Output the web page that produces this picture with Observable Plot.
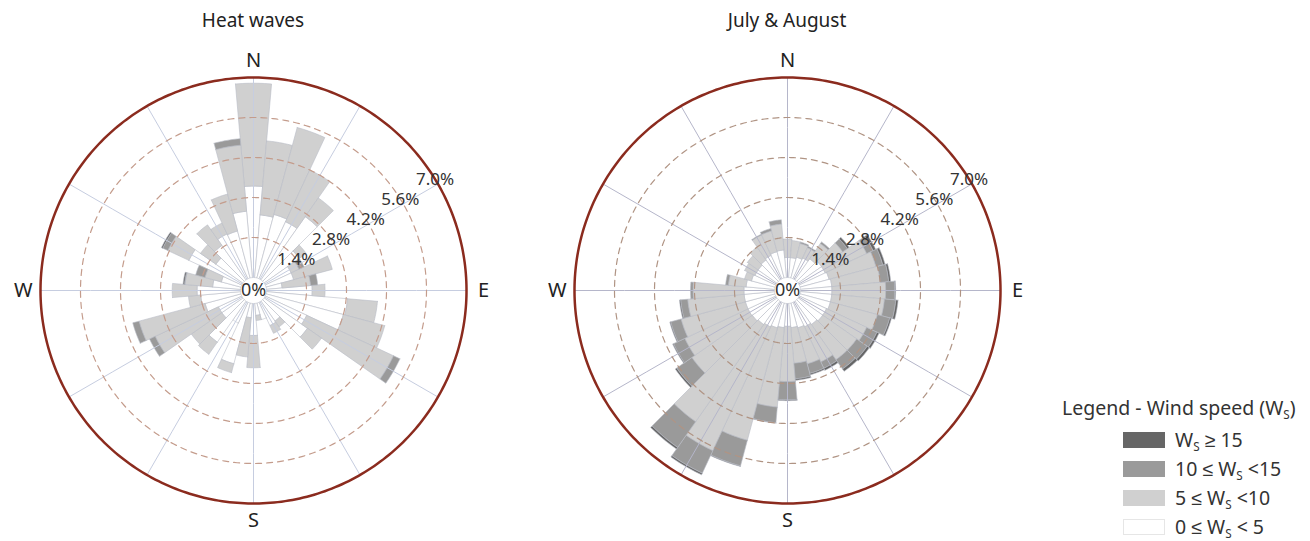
<!DOCTYPE html>
<html><head><meta charset="utf-8">
<script src="https://cdn.jsdelivr.net/npm/d3@7"></script>
<script src="https://cdn.jsdelivr.net/npm/@observablehq/plot@0.6"></script>
<style>
body{margin:0;background:#fff;font-family:"Noto Sans",sans-serif;}
#root{position:relative;width:1310px;height:541px;overflow:hidden;background:#fff;}
.title{position:absolute;top:7px;font-size:19px;color:#222;transform:translateX(-50%);white-space:nowrap;}
.chart{position:absolute;top:40px;}
#legend{position:absolute;left:0;top:0;width:1310px;height:541px;pointer-events:none;color:#333;}
.lg-title{position:absolute;left:1062px;top:394px;font-size:19.5px;white-space:nowrap;}
.sw{position:absolute;left:1123px;width:42px;height:16px;box-sizing:border-box;}
.lg-label{position:absolute;left:1175px;font-size:19.5px;white-space:nowrap;}
sub{font-size:0.6em;vertical-align:-0.35em;line-height:0;}
</style></head><body>
<div id="root">
  <div class="title" style="left:253px">Heat waves</div>
  <div class="title" style="left:787px">July &amp; August</div>
  <div class="chart" id="c1" style="left:3px"></div>
  <div class="chart" id="c2" style="left:537px"></div>
  <div id="legend"></div>
</div>
<script>
// ---- data ----
const directions = d3.range(0, 360, 10); // bearing of each 10° sector (degrees from N, clockwise)
const speedClasses = ["0 ≤ Ws < 5", "5 ≤ Ws <10", "10 ≤ Ws <15", "Ws ≥ 15"];
const classColors = ["#ffffff", "#d0d0d0", "#9a9a9a", "#666666"];
const legendLabels = ["0 ≤ W<sub>S</sub> < 5", "5 ≤ W<sub>S</sub> <10", "10 ≤ W<sub>S</sub> <15", "W<sub>S</sub> ≥ 15"];

// Heat waves: frequency (%) per wind-speed class and direction
const heatWaves_ws0_5  = [3.2,2.2,2.3,2.2,2.7,1.5,1.0,1.0,0.55,1.6,2.85,2.8,1.6,1.85,0.85,0.9,0.6,0.42,1.12,0.5,2.2,0.8,1.75,0.9,0.9,1.3,1.4,1.52,0.98,0.71,2.04,1.15,1.47,1.73,1.7,2.33];
const heatWaves_ws5_10 = [3.6,2.6,3.15,2.0,0.8,0.3,0.3,1.4,1.0,0.45,1.05,1.5,3.35,0.6,0.25,0.3,0,0.18,1.13,1.38,0.32,0,0.52,1.3,2.44,2.39,0.43,0.87,0.97,0.59,0.81,0.66,0.88,0.42,1.34,2.32];
const heatWaves_ws10_15= [0,0,0,0,0,0,0.2,0,0.25,0,0,0,0.25,0,0,0,0,0,0,0,0,0,0,0,0.22,0.23,0,0,0.02,0.34,0.2,0,0,0,0,0.23];
const heatWaves_ws15   = [0,0,0,0,0,0,0,0,0,0,0,0,0,0,0,0,0,0,0,0,0,0,0,0,0,0,0,0,0.05,0,0.05,0,0,0,0,0];

// July & August
const julyAug_ws0_5  = [0.7,0.7,0.75,0.8,0.9,1.0,1.0,1.05,1.1,1.1,1.1,1.1,1.05,1.05,1.0,0.95,0.9,0.85,0.8,0.85,0.9,0.95,1.0,1.05,1.07,1.07,1.07,1.07,1.0,0.85,0.8,0.8,0.85,0.9,0.95,0.97];
const julyAug_ws5_10 = [0.65,0.6,0.5,0.4,0.65,0.9,1.6,1.7,1.7,1.88,1.85,1.7,1.55,1.45,1.5,1.35,1.3,1.25,1.93,2.79,4.07,4.78,4.15,2.58,2.44,2.33,1.98,1.78,0.62,0.25,0.4,0.46,0.55,0.79,0.75,0.91];
const julyAug_ws10_15= [0,0,0.05,0.05,0.07,0.2,0.25,0.25,0.3,0.32,0.4,0.45,0.4,0.45,0.4,0.25,0.35,0.55,0.64,0.55,0.93,0.87,1.1,0.65,0.44,0.38,0.25,0.09,0.1,0,0,0,0,0.03,0.09,0.15];
const julyAug_ws15   = [0,0,0,0,0,0.08,0.1,0.08,0.07,0.03,0.08,0.06,0.08,0.09,0.1,0.08,0.05,0.05,0.03,0.01,0.02,0.06,0.07,0.06,0.03,0.03,0.04,0,0,0,0,0,0,0,0,0];

const ringTicks = [1.4, 2.8, 4.2, 5.6];
const outerTick = 7.0;
const tickLabels = ["1.4%", "2.8%", "4.2%", "5.6%", "7.0%"];
const cardinalLabels = ["N", "E", "S", "W"];
const cardinalBearings = [0, 90, 180, 270];
const spokeBearings = d3.range(0, 360, 30);
const labelBearing = 60;

// ---- polar helpers (angle -> longitude, percent -> latitude, projected by Plot) ----
const HOLE = 0.455;   // empty centre, in % units
const K = 10;         // degrees of arc per 1 %
const lon = b => 180 - b;
const lat = v => 90 - K * (HOLE + v);
const circle = v => d3.geoCircle().center([0, 90]).radius(K * (HOLE + v)).precision(1)();

function sectorRows(series) {
  const rows = [];
  directions.forEach((b, i) => {
    let base = 0;
    series.forEach((vals, ci) => {
      const v = vals[i];
      if (v > 0) {
        const id = b + "-" + ci;
        const inner = base, outer = base + v;
        const pts = [];
        for (let a = b - 5; a <= b + 5 + 1e-9; a += 1) pts.push([a, outer]);
        for (let a = b + 5; a >= b - 5 - 1e-9; a -= 1) pts.push([a, inner]);
        pts.push([b - 5, outer]);
        pts.forEach(([a, r]) => rows.push({id, ci, lon: lon(a), lat: lat(r)}));
      }
      base += v;
    });
  });
  return rows;
}

function rose(series, spokeColor, ringColor) {
  const rows = sectorRows(series);
  return Plot.plot({
    width: 500, height: 500,
    marginTop: 37, marginBottom: 37, marginLeft: 37, marginRight: 37,
    style: {fontFamily: "'Noto Sans', sans-serif", fontSize: "16px", color: "#333", background: "white", overflow: "visible"},
    projection: {type: "azimuthal-equidistant", rotate: [0, -90], domain: circle(outerTick), inset: 0, clip: false},
    marks: [
      ...classColors.map((c, ci) => Plot.line(rows.filter(d => d.ci === ci), {
        x: "lon", y: "lat", z: "id", fill: c, stroke: "#b9bcc6", strokeWidth: 0.6, strokeLinejoin: "miter"
      })),
      Plot.link(spokeBearings, {x1: d => lon(d), y1: lat(0), x2: d => lon(d), y2: lat(outerTick), stroke: spokeColor, strokeWidth: 1}),
      Plot.geo(ringTicks.map(circle), {stroke: ringColor, strokeWidth: 1.2, strokeDasharray: "6,5", fill: "none"}),
      Plot.geo([circle(outerTick)], {stroke: "#8b2b1e", strokeWidth: 2.5, fill: "none"}),
      Plot.text([...ringTicks, outerTick], {x: () => lon(labelBearing), y: d => lat(d), text: (d, i) => tickLabels[i], dx: -3, dy: -4, fontSize: 17, fill: "#333"}),
      Plot.text(["0%"], {x: () => 0, y: () => 90, text: d => d, fontSize: 18, fill: "#333"}),
      Plot.text(cardinalLabels, {x: (d, i) => lon(cardinalBearings[i]), y: () => lat(7.6), text: d => d, fontSize: 20, fill: "#222"})
    ]
  });
}

document.getElementById("c1").append(rose([heatWaves_ws0_5, heatWaves_ws5_10, heatWaves_ws10_15, heatWaves_ws15], "#c6cde0", "#c49c8c"));
document.getElementById("c2").append(rose([julyAug_ws0_5, julyAug_ws5_10, julyAug_ws10_15, julyAug_ws15], "#b5b6ca", "#b09484"));

// ---- legend ----
const lg = document.getElementById("legend");
lg.innerHTML = `<div class="lg-title">Legend - Wind speed (W<sub>S</sub>)</div>`;
const order = [3, 2, 1, 0];
order.forEach((ci, k) => {
  const top = 432 + k * 29;
  const sw = document.createElement("div");
  sw.className = "sw";
  sw.style.top = top + "px";
  sw.style.background = classColors[ci];
  sw.style.border = ci === 0 ? "1px solid #e6e6e6" : "none";
  lg.append(sw);
  const lab = document.createElement("div");
  lab.className = "lg-label";
  lab.style.top = (top - 6) + "px";
  lab.innerHTML = legendLabels[ci];
  lg.append(lab);
});
</script>
</body></html>
